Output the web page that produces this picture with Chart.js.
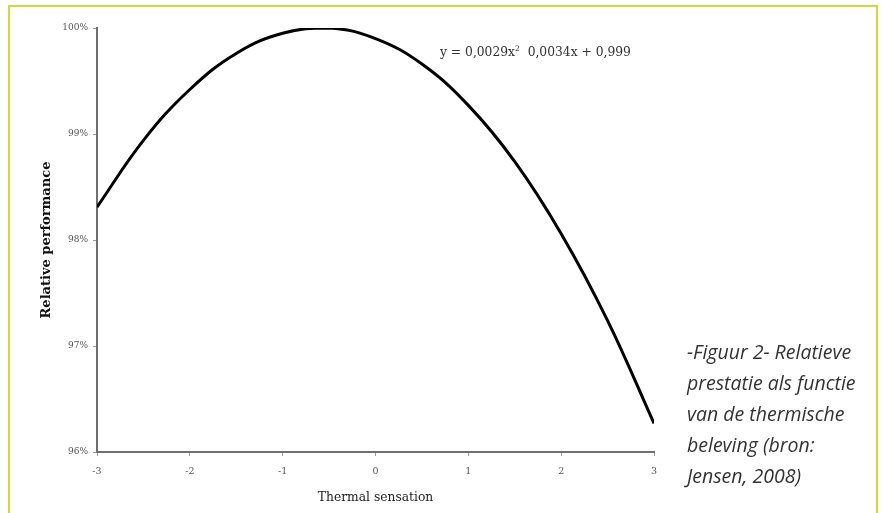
<!DOCTYPE html>
<html>
<head>
<meta charset="utf-8">
<script src="https://cdn.jsdelivr.net/npm/chart.js@4"></script>
<style>
  html, body { margin: 0; padding: 0; background: #fff; }
  #wrap { position: relative; width: 881px; height: 513px; overflow: hidden; }
  #frame { position: absolute; left: 8px; top: 5px; width: 866px; height: 520px;
           border-top: 2px solid #c9dc3a; border-left: 2px solid #c9dc3a; border-right: 2px solid #c9dc3a; }
  #chartbox { position: absolute; left: 0; top: 0; width: 881px; height: 513px; }
  #eq { position: absolute; left: 440px; top: 44px; font-family: "DejaVu Serif", serif; font-size: 12.3px; color: #333; white-space: nowrap; }
  #eq sup { font-size: 7.5px; }
  #caption { position: absolute; left: 687px; top: 336px; font-family: "Open Sans", sans-serif; font-style: italic;
             font-size: 19.5px; line-height: 31px; color: #333; white-space: nowrap; }
</style>
</head>
<body>
<div id="wrap">
  <div id="frame"></div>
  <div id="chartbox"><canvas id="curve"></canvas></div>
  <div id="eq">y = 0,0029x<sup>2</sup>&nbsp; 0,0034x + 0,999</div>
  <div id="caption">-Figuur 2- Relatieve<br>prestatie als functie<br>van de thermische<br>beleving (bron:<br>Jensen, 2008)</div>
</div>
<script>
// values
const sensation = [-3, -2.5, -2, -1.5, -1, -0.5, 0, 0.5, 1, 1.5, 2, 2.5, 3];
const performance = [98.31, 98.94, 99.42, 99.76, 99.95, 100.00, 99.90, 99.66, 99.27, 98.74, 98.06, 97.24, 96.27];
const xTicks = [-3, -2, -1, 0, 1, 2, 3];
const yTicks = [96, 97, 98, 99, 100];

const points = sensation.map((x, i) => ({x: x, y: performance[i]}));

const ctx = document.getElementById('curve').getContext('2d');
const chart = new Chart(ctx, {
    type: 'line',
    data: {
        datasets: [{
            data: points,
            borderColor: '#000',
            borderWidth: 3,
            pointRadius: 0,
            tension: 0.4,
            fill: false
        }]
    },
    options: {
        responsive: true,
        maintainAspectRatio: false,
        animation: false,
        layout: { padding: { left: 0, right: 227, top: 28, bottom: 0 } },
        plugins: { legend: { display: false }, tooltip: { enabled: false } },
        scales: {
            x: {
                type: 'linear',
                min: -3, max: 3,
                afterBuildTicks: s => { s.ticks = xTicks.map(v => ({value: v})); },
                afterFit: s => { s.height = 61; },
                border: { color: '#6f6f6f', width: 2 },
                grid: { drawOnChartArea: false, drawTicks: true, tickLength: 4, color: '#999' },
                ticks: { color: '#555', font: { family: 'DejaVu Serif', size: 9.5 }, padding: 10, maxRotation: 0 },
                title: { display: true, text: 'Thermal sensation', color: '#222',
                         font: { family: 'DejaVu Serif', size: 12.3 }, padding: { top: 0, bottom: 8 } }
            },
            y: {
                min: 96, max: 100,
                afterBuildTicks: s => { s.ticks = yTicks.map(v => ({value: v})); },
                afterFit: s => { s.width = 97; },
                border: { color: '#6f6f6f', width: 2 },
                grid: { drawOnChartArea: false, drawTicks: true, tickLength: 4, color: '#999' },
                ticks: { color: '#555', font: { family: 'DejaVu Serif', size: 9 }, padding: 5,
                         callback: v => v + '%' },
                title: { display: true, text: 'Relative performance', color: '#111',
                         font: { family: 'DejaVu Serif', size: 13, weight: 'bold' }, padding: { top: 39, bottom: 0 } }
            }
        }
    }
});
</script>
</body>
</html>
